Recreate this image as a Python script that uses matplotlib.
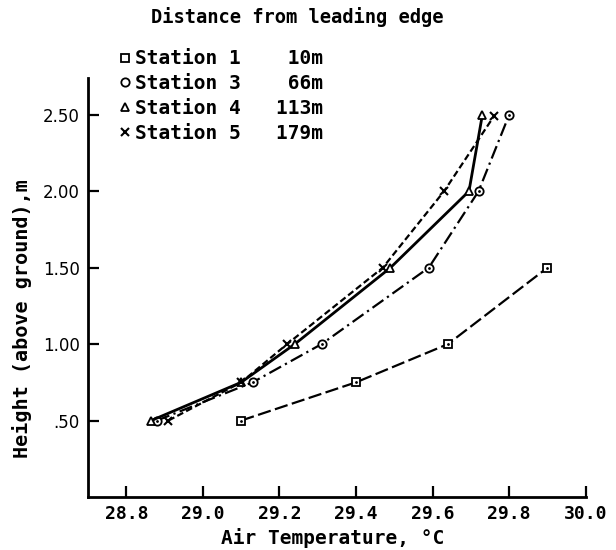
import matplotlib
matplotlib.use('Agg')
import matplotlib.pyplot as plt
from matplotlib.lines import Line2D

# Air temperature (C) vs height above ground (m)
h1 = [0.5, 0.75, 1.0, 1.5]
t1 = [29.10, 29.40, 29.64, 29.90]

h3 = [0.5, 0.75, 1.0, 1.5, 2.0, 2.5]
t3 = [28.88, 29.13, 29.31, 29.59, 29.72, 29.80]

h4 = [0.5, 0.75, 1.0, 1.5, 2.0, 2.5]
t4 = [28.865, 29.10, 29.24, 29.49, 29.695, 29.73]

h5 = [0.5, 0.75, 1.0, 1.5, 2.0, 2.49]
t5 = [28.91, 29.10, 29.22, 29.47, 29.63, 29.76]

labels = ['Station 1    10m', 'Station 3    66m', 'Station 4   113m', 'Station 5   179m']
xticks = [28.8, 29.0, 29.2, 29.4, 29.6, 29.8, 30.0]
yticks = [0.5, 1.0, 1.5, 2.0, 2.5]
ytick_labels = ['.50', '1.00', '1.50', '2.00', '2.50']

MONO = ['DejaVu Sans Mono']

fig = plt.figure(figsize=(6.16, 5.5), dpi=100)
ax = fig.add_axes([0.1429, 0.0964, 0.808, 0.7616])

lw = 1.6
mk = dict(ms=6, mfc='white', mec='black', mew=1.3)
ax.plot(t1, h1, color='black', lw=lw, dashes=(6, 2), marker='s', **mk)
ax.plot(t3, h3, color='black', lw=lw, dashes=(6, 2, 1, 2), marker='o', **mk)
ax.plot(t4, h4, color='black', lw=2.0, ls='-', marker='^', **mk)
ax.plot(t5, h5, color='black', lw=lw, dashes=(3, 1.5), marker='x', ms=6, mec='black', mew=1.5)
# centre dots of the square and circle symbols
ax.plot(t1, h1, ls='none', marker='.', ms=2, color='black')
ax.plot(t3, h3, ls='none', marker='.', ms=2, color='black')

ax.set_xlim(28.7, 30.0)
ax.set_ylim(0.0, 2.74)
ax.set_xticks(xticks)
ax.set_xticklabels(['%.1f' % v for v in xticks], fontfamily=MONO, fontweight='bold', fontsize=13)
ax.set_yticks(yticks)
ax.set_yticklabels(ytick_labels, fontfamily=['Liberation Sans Narrow', 'DejaVu Sans'], fontsize=12)
ax.tick_params(direction='in', length=8, width=1.6, pad=6)

for s in ['top', 'right']:
    ax.spines[s].set_visible(False)
for s in ['left', 'bottom']:
    ax.spines[s].set_linewidth(2)

ax.set_xlabel('Air Temperature, °C', fontfamily=MONO, fontweight='bold', fontsize=14)
ax.xaxis.label.set_va('center')
ax.xaxis.set_label_coords(0.492, -0.097)
ax.set_ylabel('Height (above ground),m', fontfamily=MONO, fontweight='bold', fontsize=14.5)
ax.yaxis.label.set_va('center')
ax.yaxis.set_label_coords(-0.1325, 0.427)

fig.text(0.482, 0.969, 'Distance from leading edge', ha='center', va='center',
         fontfamily=MONO, fontweight='bold', fontsize=13.5)

handles = [
    Line2D([], [], ls='none', marker='s', **mk),
    Line2D([], [], ls='none', marker='o', **mk),
    Line2D([], [], ls='none', marker='^', **mk),
    Line2D([], [], ls='none', marker='x', ms=6, mec='black', mew=1.5),
]
leg = ax.legend(handles, labels, loc='upper left', bbox_to_anchor=(0.18, 0.928),
                bbox_transform=fig.transFigure, frameon=False, handlelength=0.5,
                handletextpad=0.25, labelspacing=0.3, borderpad=0,
                prop={'family': MONO, 'weight': 'bold', 'size': 14})

fig.savefig('out.png', dpi=100)
